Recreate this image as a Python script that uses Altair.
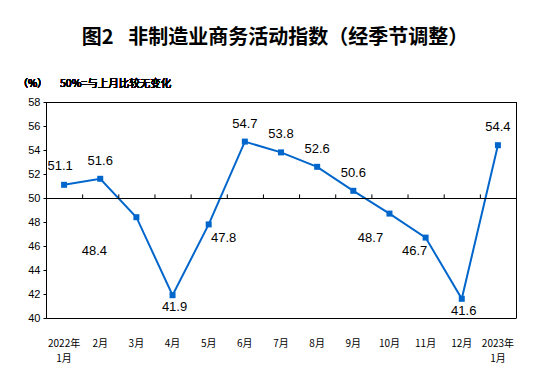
import altair as alt
import pandas as pd

months = ["2022年\n1月", "2月", "3月", "4月", "5月", "6月", "7月", "8月", "9月",
          "10月", "11月", "12月", "2023年\n1月"]
values = [51.1, 51.6, 48.4, 41.9, 47.8, 54.7, 53.8, 52.6, 50.6, 48.7, 46.7, 41.6, 54.4]
label_pos = ["above_left", "above", "far_left_below", "below", "right_below", "above", "above",
             "above", "above", "left_below", "left", "below", "above"]
y_ticks = [40, 42, 44, 46, 48, 50, 52, 54, 56, 58]

df = pd.DataFrame({"m": months, "v": values, "pos": label_pos,
                   "lbl": [f"{v:.1f}" for v in values]})

W, H = 470, 216
BLUE = "#0066CC"
NUM_FONT = "Liberation Sans"
CJK = "Noto Sans CJK SC"

x_axis = alt.Axis(title=None, labelAngle=0, domain=True, domainColor="#000",
                  ticks=False, bandPosition=0.5, labelFont=CJK, labelFontSize=10,
                  labelColor="#000", labelPadding=20, labelLineHeight=15,
                  labelOverlap=False, labelFlush=False,
                  labelExpr="split(datum.label, '\\n')")
y_axis = alt.Axis(title=None, values=y_ticks, tickCount=10, grid=False, domainColor="#000",
                  tickColor="#000", tickSize=3, labelFont=NUM_FONT,
                  labelFontSize=11, labelColor="#000", labelPadding=3,
                  labelOverlap=False, labelFlush=False)
x_scale = alt.Scale(paddingInner=0, paddingOuter=0)
y_scale = alt.Scale(domain=[40, 58], nice=False, zero=False)

x_enc = alt.X("m:N", sort=months, scale=x_scale, axis=x_axis)
y_enc = alt.Y("v:Q", scale=y_scale, axis=y_axis)

base = alt.Chart(df)

line = base.mark_line(color=BLUE, strokeWidth=2).encode(x=x_enc, y=y_enc)
pts = base.mark_square(color=BLUE, size=36, opacity=1).encode(x=x_enc, y=y_enc)

ref = base.mark_rule(color="#000", strokeWidth=1, yOffset=0.5).encode(
    y=alt.YDatum(50, scale=y_scale, axis=y_axis), x=alt.value(0), x2=alt.value(W))
boundary_ticks = base.mark_rule(color="#000", strokeWidth=1, xOffset=0.5).encode(
    x=alt.X("m:N", sort=months, bandPosition=0, scale=x_scale, axis=x_axis),
    y=alt.YDatum(50, scale=y_scale, axis=y_axis), y2=alt.Y2Datum(50.3))
right_border = base.mark_rule(color="#000", strokeWidth=1, xOffset=0.5).encode(
    x=alt.value(W), y=alt.value(0), y2=alt.value(H))
top_border = base.mark_rule(color="#000", strokeWidth=1, yOffset=0.5).encode(
    y=alt.value(0), x=alt.value(0), x2=alt.value(W))

offsets = {
    "above": (0, -18),
    "above_left": (-4, -19),
    "below": (2, 12),
    "far_left_below": (-42, 34),
    "left_below": (-19, 24),
    "left": (-11, 13),
    "right_below": (15, 14),
}
label_layers = []
for p, (dx, dy) in offsets.items():
    label_layers.append(
        base.transform_filter(alt.datum.pos == p).mark_text(
            font=NUM_FONT, fontSize=13, color="#000", dx=dx, dy=dy,
            align="center", baseline="middle").encode(
            x=x_enc, y=y_enc, text="lbl:N"))

pct = base.mark_text(font=CJK, fontSize=10, fontWeight="normal", color="#000",
                     align="left", baseline="middle").encode(
    x=alt.value(-28), y=alt.value(-18), text=alt.value("（%）"))
note = base.mark_text(font=CJK, fontSize=10.5, fontWeight="normal", color="#000",
                      align="left", baseline="middle").encode(
    x=alt.value(14), y=alt.value(-18), text=alt.value("50%=与上月比较无变化"))

chart = alt.layer(line, pts, ref, boundary_ticks, right_border, top_border,
                  *label_layers, pct, note).properties(
    width=W, height=H,
    title=alt.TitleParams("图2\u2002\u00a0非制造业商务活动指数（经季节调整）", font=CJK, fontSize=20,
                          fontWeight="bold", color="#000", anchor="middle", offset=31, dx=-6),
    autosize=alt.AutoSizeParams(type="none"),
    padding={"left": 38, "top": 94, "right": 27, "bottom": 50},
).configure_view(stroke=None).configure(background="white")

chart.save("out.html", embed_options={"renderer": "svg", "actions": False})
